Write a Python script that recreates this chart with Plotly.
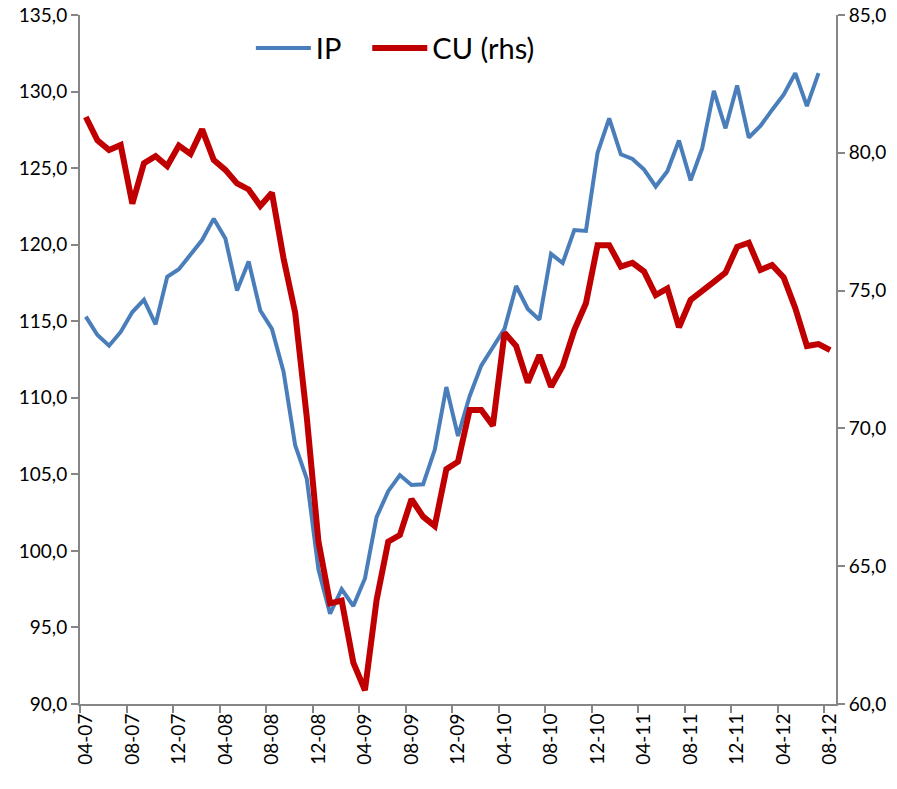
import plotly.graph_objects as go

months = []
for yr in range(7, 13):
    for m in range(1, 13):
        lab = f"{m:02d}-{yr:02d}"
        months.append(lab)
months = months[months.index("04-07"):months.index("08-12") + 1]

ip = [115.3, 114.1, 113.4, 114.3, 115.6, 116.4, 114.8, 117.9, 118.4, 119.3,
      120.3, 121.7, 120.4, 117.0, 118.9, 115.7, 114.5, 111.7, 106.9, 104.7,
      98.8, 95.9, 97.5, 96.4, 98.2, 102.2, 103.9, 104.95, 104.3, 104.35,
      106.6, 110.7, 107.5, 110.1, 112.1, 113.3, 114.5, 117.3, 115.8, 115.1,
      119.4, 118.8, 120.95, 120.9, 126.0, 128.25, 125.9, 125.6, 124.9, 123.8,
      124.8, 126.8, 124.2, 126.3, 130.05, 127.6, 130.4, 127.0, 127.75, 128.8,
      129.8, 131.2, 129.05, 131.2]

cu = [81.3, 80.45, 80.1, 80.28, 78.15, 79.62, 79.88, 79.52, 80.26, 79.96,
      80.85, 79.74, 79.38, 78.89, 78.67, 78.07, 78.55, 76.17, 74.2, 70.4,
      65.9, 63.65, 63.75, 61.5, 60.5, 63.77, 65.89, 66.13, 67.43, 66.8,
      66.46, 68.52, 68.79, 70.67, 70.67, 70.1, 73.47, 72.99, 71.66, 72.66,
      71.51, 72.26, 73.57, 74.54, 76.65, 76.65, 75.87, 76.01, 75.69, 74.84,
      75.08, 73.67, 74.66, 75.02, 75.32, 75.65, 76.59, 76.74, 75.75, 75.93,
      75.48, 74.36, 72.99, 73.06, 72.84]

idx = list(range(len(months)))
tick_idx = idx[::4]
tick_txt = [months[i] for i in tick_idx]

FONT = "Lato"
AXC = "#868686"

fig = go.Figure()
fig.add_trace(go.Scatter(x=idx[:len(ip)], y=ip, name="IP", mode="lines",
                         line=dict(color="#4A7EBB", width=4), yaxis="y",
                         legend="legend"))
fig.add_trace(go.Scatter(x=idx, y=cu, name="CU (rhs)", mode="lines",
                         line=dict(color="#C00000", width=6), yaxis="y2",
                         legend="legend2"))

leg_common = dict(orientation="h", xanchor="left", y=0.952, yanchor="middle",
                  font=dict(size=29, family=FONT), bgcolor="rgba(0,0,0,0)",
                  itemwidth=55)

fig.update_layout(
    width=897, height=789,
    margin=dict(l=80, r=61, t=15, b=85, autoexpand=False),
    paper_bgcolor="white", plot_bgcolor="white",
    separators=",.",
    font=dict(family=FONT, size=19, color="black"),
    showlegend=True,
    legend=dict(x=0.226, **leg_common),
    legend2=dict(x=0.380, **leg_common),
    xaxis=dict(range=[-0.5, len(months) - 0.5], tickmode="array",
               tickvals=tick_idx, ticktext=tick_txt, tickangle=-90,
               ticks="", showgrid=False, zeroline=False, automargin=False,
               showline=True, linecolor=AXC, linewidth=2,
               ticklabeloverflow="allow", tickfont=dict(size=19),
               minor=dict(ticks="outside", tick0=-0.5, dtick=4, ticklen=7,
                          tickcolor=AXC, tickwidth=2, showgrid=False)),
    yaxis=dict(range=[90, 135], dtick=5, tickformat=".1f", ticks="outside",
               ticklen=7, tickcolor=AXC, tickwidth=2, showgrid=False,
               zeroline=False, showline=True, linecolor=AXC, linewidth=2,
               automargin=False, ticklabeloverflow="allow",
               tickfont=dict(size=19)),
    yaxis2=dict(range=[60, 85], dtick=5, tickformat=".1f", ticks="outside",
                ticklen=7, tickcolor=AXC, tickwidth=2, showgrid=False,
                zeroline=False, showline=True, linecolor=AXC, linewidth=2,
                automargin=False, overlaying="y", side="right",
                ticklabeloverflow="allow", tickfont=dict(size=19)),
)

fig.write_html("out.html",
               config={"displayModeBar": False},
               post_script="document.body.style.margin='0';"
                           "document.body.style.overflow='hidden';")
